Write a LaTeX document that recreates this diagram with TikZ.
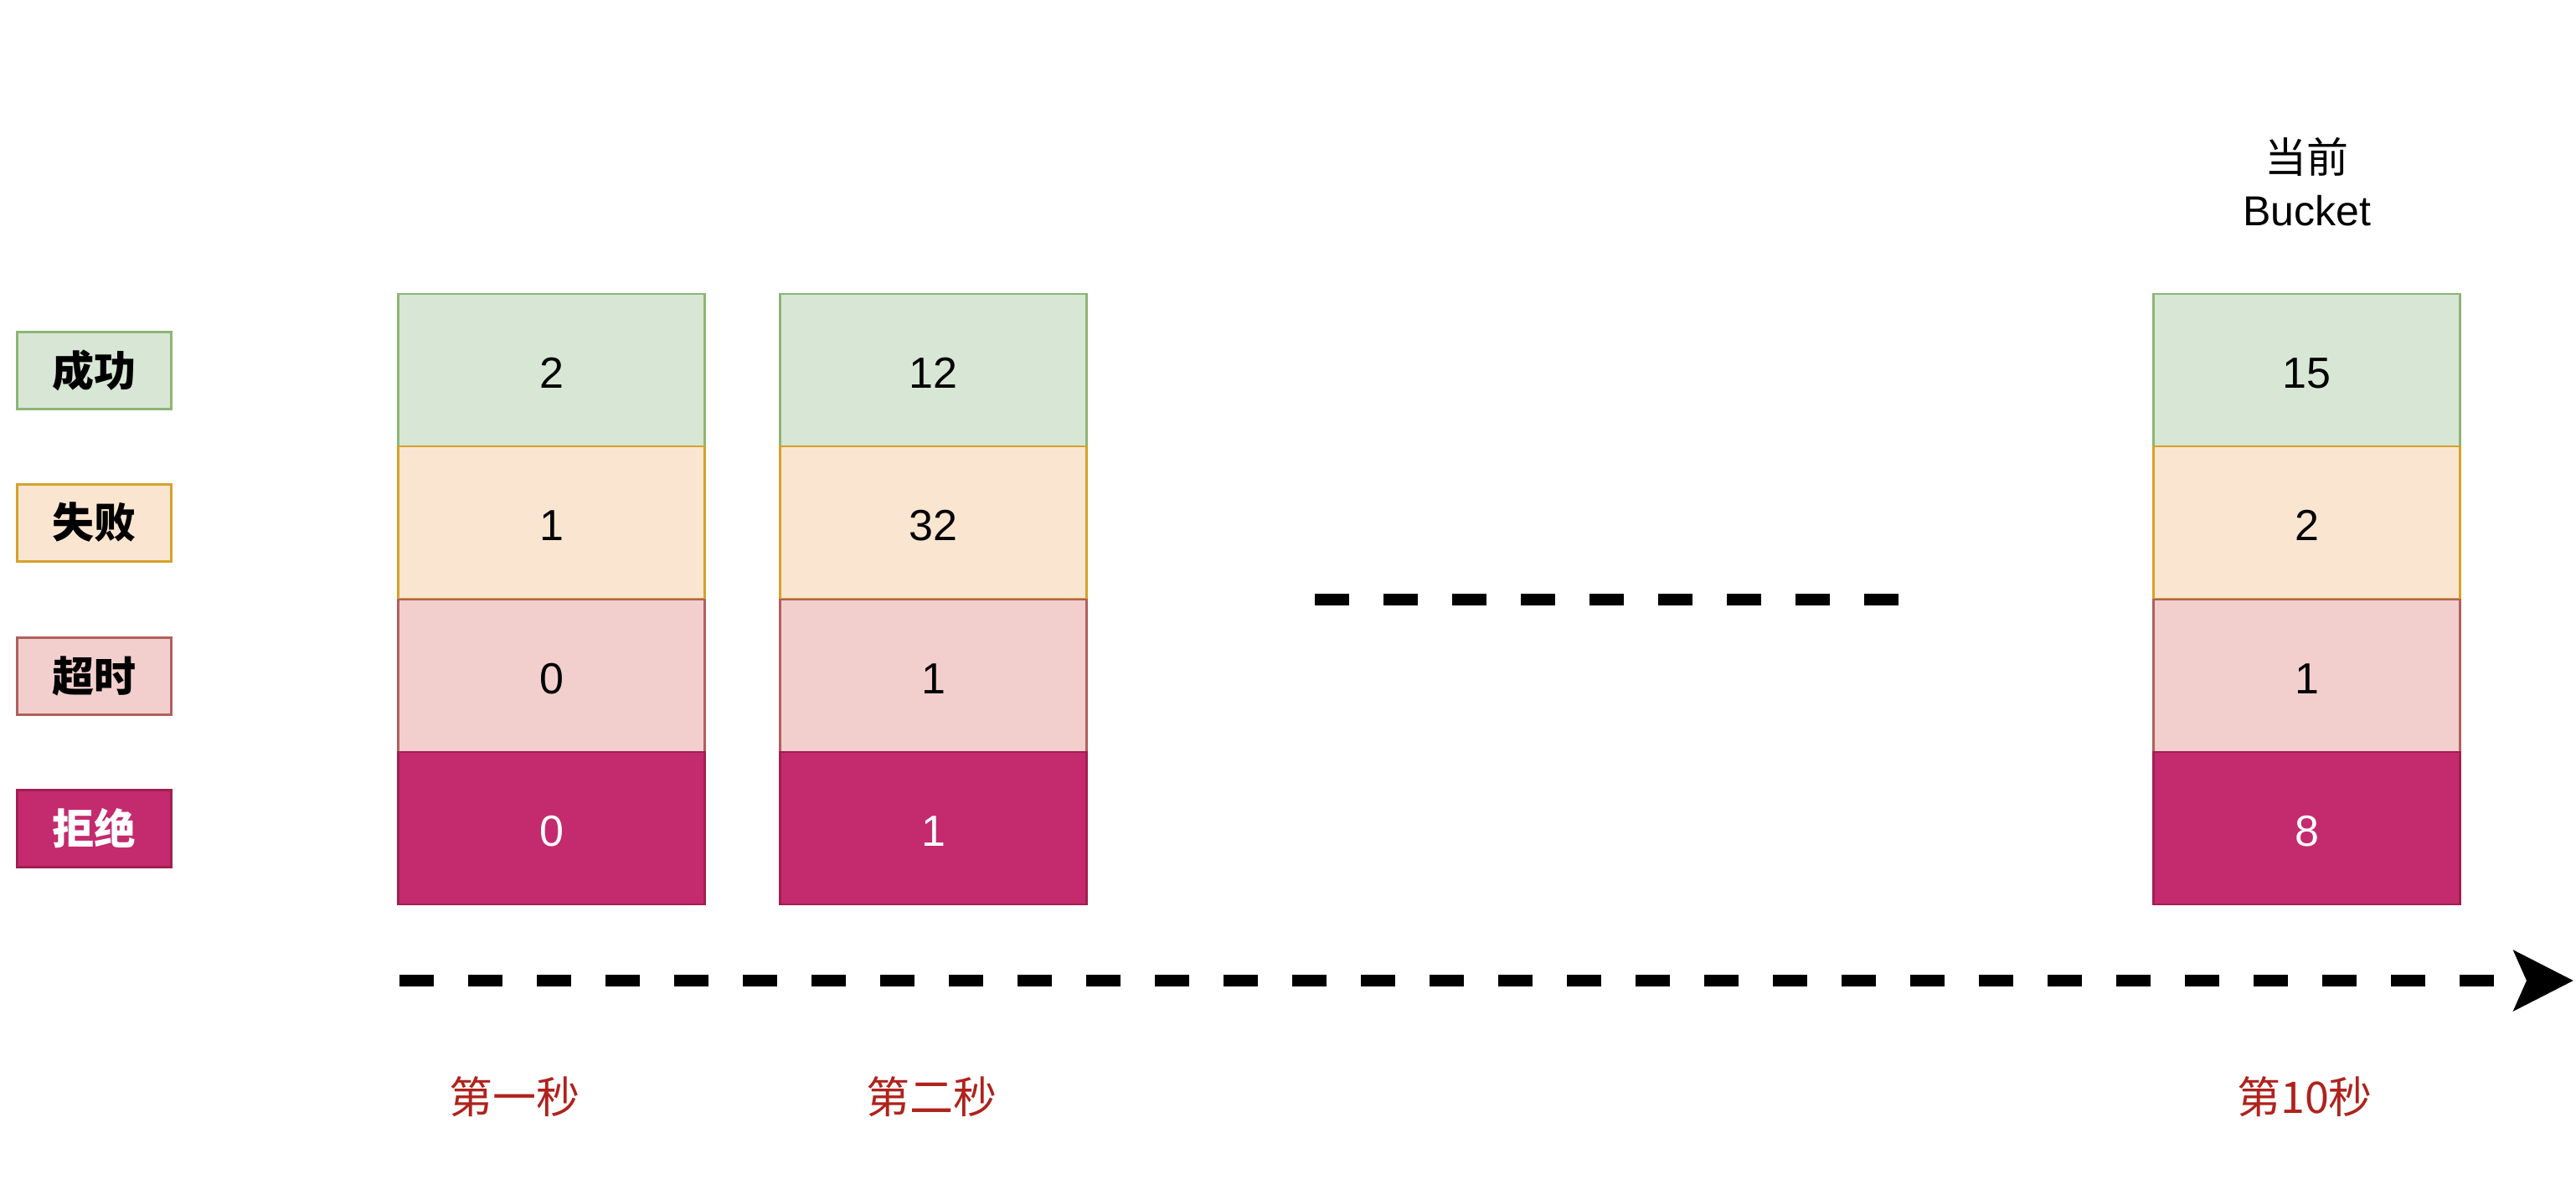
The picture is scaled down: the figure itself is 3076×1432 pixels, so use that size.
\documentclass[tikz,border=0pt]{standalone}
\usepackage{fontspec}
\setmainfont{Liberation Sans}
\newfontfamily\cjk{Noto Sans CJK SC}
\usetikzlibrary{arrows.meta}
\definecolor{gfill}{HTML}{D8E7D5}
\definecolor{gline}{HTML}{8DB576}
\definecolor{ofill}{HTML}{FAE6D0}
\definecolor{oline}{HTML}{D6A12C}
\definecolor{pfill}{HTML}{F2CFCD}
\definecolor{pline}{HTML}{B0605C}
\definecolor{mfill}{HTML}{C42A6E}
\definecolor{mline}{HTML}{A0204F}
\definecolor{lbl}{HTML}{B0221C}
\tikzset{
  cell/.style={draw, line width=1.2pt, minimum width=183pt, minimum height=91pt, inner sep=0pt, text height=21.6pt, text depth=0pt, font=\fontsize{26}{31}\selectfont},
  legend/.style={draw, line width=1.5pt, minimum width=92pt, minimum height=46pt, inner sep=0pt, font=\fontsize{25}{30}\selectfont\cjk\bfseries},
  gcell/.style={fill=gfill, draw=gline},
  ocell/.style={fill=ofill, draw=oline},
  pcell/.style={fill=pfill, draw=pline},
  mcell/.style={fill=mfill, draw=mline, text=white},
  timelbl/.style={text=lbl, font=\fontsize{26}{31}\selectfont\cjk},
  dashline/.style={line width=7pt, dash pattern=on 20.5pt off 20.5pt}
}
\begin{document}
\begin{tikzpicture}[x=0.5pt,y=-0.5pt]
\useasboundingbox[fill=white] (0,0) rectangle (3076,1432);
% legend
\node[legend, gcell] (l1) at (112,442) {成功};
\node[legend, ocell] (l2) at (112,624) {失败};
\node[legend, pcell] (l3) at (112,807) {超时};
\node[legend, mcell] (l4) at (112,989) {拒绝};
% column 1
\node[cell, gcell] (a1) at (658.5,442) {2};
\node[cell, ocell] (a2) at (658.5,624) {1};
\node[cell, pcell] (a3) at (658.5,807) {0};
\node[cell, mcell] (a4) at (658.5,989) {0};
% column 2
\node[cell, gcell] (b1) at (1114.5,442) {12};
\node[cell, ocell] (b2) at (1114.5,624) {32};
\node[cell, pcell] (b3) at (1114.5,807) {1};
\node[cell, mcell] (b4) at (1114.5,989) {1};
% column 3
\node[cell, gcell] (c1) at (2754.5,442) {15};
\node[cell, ocell] (c2) at (2754.5,624) {2};
\node[cell, pcell] (c3) at (2754.5,807) {1};
\node[cell, mcell] (c4) at (2754.5,989) {8};
% current bucket label
\node[align=center, font=\fontsize{25}{31.5}\selectfont] (cur) at (2754.5,217) {{\cjk 当前}\\Bucket};
% middle ellipsis dashes
\coordinate (m1) at (1570,716);
\coordinate (m2) at (2272,716);
\draw[dashline] (m1) -- (m2);
% time axis
\coordinate (t1) at (477,1171);
\coordinate (t2) at (3073,1171);
\draw[dashline, -{Stealth[length=35.5pt, width=35.5pt, inset=7.5pt]}] (t1) -- (t2);
% time labels
\node[timelbl] (s1) at (614,1310) {第一秒};
\node[timelbl] (s2) at (1112,1310) {第二秒};
\node[timelbl] (s3) at (2752,1310) {第10秒};
\end{tikzpicture}
\end{document}
